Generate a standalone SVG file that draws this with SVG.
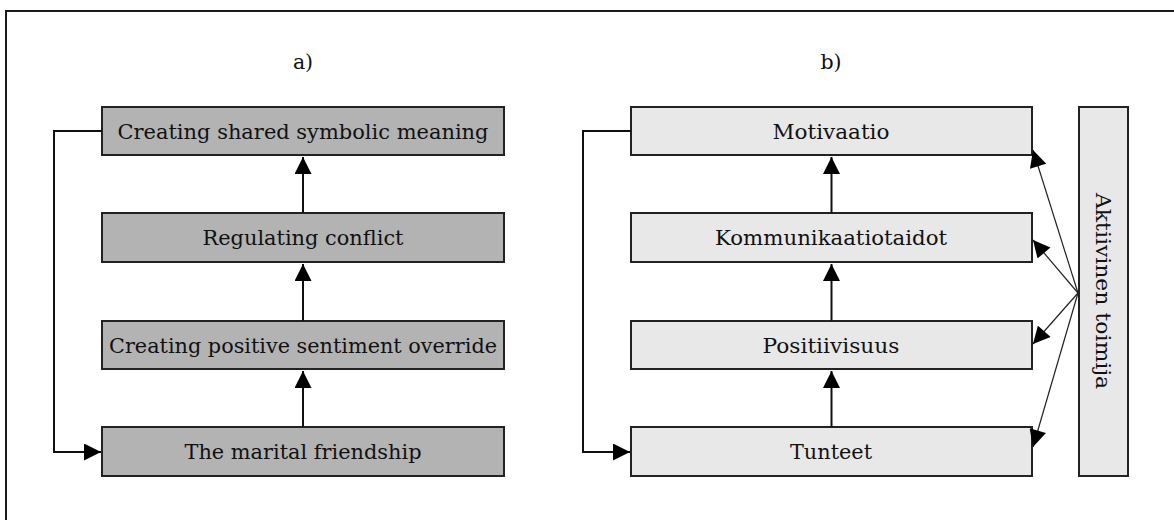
<svg xmlns="http://www.w3.org/2000/svg" width="1174" height="520" viewBox="0 0 1174 520">
  <style>
    .frame { fill: none; stroke: #1a1a1a; stroke-width: 2; }
    .dark { fill: #b3b3b3; stroke: #222; stroke-width: 2; }
    .light { fill: #e8e8e8; stroke: #222; stroke-width: 2; }
    .lbl { font-family: "DejaVu Serif", "Liberation Serif", serif; font-size: 20.5px; fill: #111; text-anchor: middle; }
    .link { fill: none; stroke: #111; stroke-width: 2; }
    .thin { fill: none; stroke: #222; stroke-width: 1.2; }
  </style>
  <defs>
    <marker id="head" viewBox="0 0 10 10" refX="10" refY="5" markerUnits="userSpaceOnUse" markerWidth="18" markerHeight="17" orient="auto">
      <path d="M0,0 L10,5 L0,10 z" fill="#000"/>
    </marker>
  </defs>

  <!-- outer frame; right and bottom edges run off the canvas -->
  <rect class="frame" x="6" y="11" width="1200" height="530"/>

  <text class="lbl" x="303" y="69">a)</text>
  <text class="lbl" x="831" y="69">b)</text>

  <!-- left column -->
  <g id="shared-meaning">
    <rect class="dark" x="102" y="107" width="402" height="48"/>
    <text class="lbl" x="303" y="138.5" textLength="371" lengthAdjust="spacingAndGlyphs">Creating shared symbolic meaning</text>
  </g>
  <g id="regulating-conflict">
    <rect class="dark" x="102" y="213" width="402" height="49"/>
    <text class="lbl" x="303" y="245" textLength="201" lengthAdjust="spacingAndGlyphs">Regulating conflict</text>
  </g>
  <g id="positive-sentiment">
    <rect class="dark" x="102" y="321" width="402" height="48"/>
    <text class="lbl" x="303" y="352.5" textLength="388" lengthAdjust="spacingAndGlyphs">Creating positive sentiment override</text>
  </g>
  <g id="marital-friendship">
    <rect class="dark" x="102" y="427" width="402" height="49"/>
    <text class="lbl" x="303" y="459" textLength="237" lengthAdjust="spacingAndGlyphs">The marital friendship</text>
  </g>

  <!-- right column -->
  <g id="motivaatio">
    <rect class="light" x="631" y="107" width="401" height="48"/>
    <text class="lbl" x="831" y="138.5" textLength="117" lengthAdjust="spacingAndGlyphs">Motivaatio</text>
  </g>
  <g id="kommunikaatiotaidot">
    <rect class="light" x="631" y="213" width="401" height="49"/>
    <text class="lbl" x="831" y="245" textLength="232" lengthAdjust="spacingAndGlyphs">Kommunikaatiotaidot</text>
  </g>
  <g id="positiivisuus">
    <rect class="light" x="631" y="321" width="401" height="48"/>
    <text class="lbl" x="831" y="352.5" textLength="137" lengthAdjust="spacingAndGlyphs">Positiivisuus</text>
  </g>
  <g id="tunteet">
    <rect class="light" x="631" y="427" width="401" height="49"/>
    <text class="lbl" x="831" y="459" textLength="82" lengthAdjust="spacingAndGlyphs">Tunteet</text>
  </g>
  <g id="aktiivinen-toimija">
    <rect class="light" x="1079" y="107" width="49" height="369"/>
    <text class="lbl" transform="translate(1103,291) rotate(90)" x="0" y="7" textLength="196" lengthAdjust="spacingAndGlyphs">Aktiivinen toimija</text>
  </g>

  <g id="connectors">
    <!-- left chain -->
    <line class="link" x1="303" y1="213" x2="303" y2="157" marker-end="url(#head)"/>
    <line class="link" x1="303" y1="321" x2="303" y2="264" marker-end="url(#head)"/>
    <line class="link" x1="303" y1="427" x2="303" y2="371" marker-end="url(#head)"/>
    <polyline class="link" points="102,131 54,131 54,452 101,452" marker-end="url(#head)"/>
    <!-- right chain -->
    <line class="link" x1="831.5" y1="213" x2="831.5" y2="157" marker-end="url(#head)"/>
    <line class="link" x1="831.5" y1="321" x2="831.5" y2="264" marker-end="url(#head)"/>
    <line class="link" x1="831.5" y1="427" x2="831.5" y2="371" marker-end="url(#head)"/>
    <polyline class="link" points="631,131 583,131 583,452 630,452" marker-end="url(#head)"/>
    <!-- fan from the actor -->
    <line class="thin" x1="1078" y1="293" x2="1033" y2="150" marker-end="url(#head)"/>
    <line class="thin" x1="1078" y1="293" x2="1033" y2="240" marker-end="url(#head)"/>
    <line class="thin" x1="1078" y1="293" x2="1033" y2="344" marker-end="url(#head)"/>
    <line class="thin" x1="1078" y1="293" x2="1033" y2="447" marker-end="url(#head)"/>
  </g>
</svg>
